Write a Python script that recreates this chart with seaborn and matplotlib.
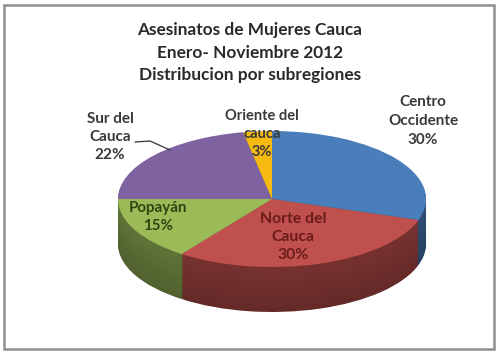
import matplotlib
matplotlib.use("Agg")
import matplotlib.pyplot as plt
import matplotlib.colors as mcolors
from matplotlib.patches import Rectangle
import seaborn as sns

# ---- data ----
categories = ["Centro\nOccidente", "Norte del\nCauca", "Popayán", "Sur del\nCauca", "Oriente del\ncauca"]
values = [30, 30, 15, 22, 3]
slice_colors = ["#4A7EBB", "#C0504D", "#9BBB59", "#7F63A1", "#F6BA12"]
label_colors = ["#3a3a3a", "#6a1c1a", "#2c4710", "#3a3a3a", "#3a3a3a"]
title_lines = ["Asesinatos de Mujeres Cauca", "Enero- Noviembre 2012", "Distribucion por subregiones"]

sns.set_theme(style="white")
plt.rcParams["font.family"] = ["Lato", "DejaVu Sans"]

W, H = 500, 354
fig = plt.figure(figsize=(W / 100, H / 100), dpi=100)
fig.patch.set_facecolor("white")

# pie geometry in pixels
cx, cy = 272, 199        # centre of top face
rx, ry = 154, 68         # ellipse radii
depth = 45               # thickness of the side

ax = fig.add_axes([0, 0, 1, 1])
ax.set_facecolor("none")


def darken(c, f):
    r, g, b = mcolors.to_rgb(c)
    return (r * f, g * f, b * f)


n_layers = 40
d_units = depth / ry
for i in range(n_layers, 0, -1):
    off = -d_units * i / n_layers
    shade = 0.52 + 0.1 * (1 - i / n_layers)
    ax.pie(values, colors=[darken(c, shade) for c in slice_colors], startangle=90,
           counterclock=False, radius=1, center=(0, off),
           wedgeprops=dict(linewidth=0, antialiased=True), frame=True)

ax.pie(values, colors=slice_colors, startangle=90, counterclock=False,
       radius=1, center=(0, 0), wedgeprops=dict(linewidth=0), frame=True)

ax.set_aspect("auto")
ax.set_xlim(-cx / rx, (W - cx) / rx)
ax.set_ylim(-(H - cy) / ry, cy / ry)
ax.axis("off")


def fx(px):
    return px / W


def fy(py):
    return 1 - py / H


# title
for line, y in zip(title_lines, [30, 53, 75]):
    fig.text(fx(250), fy(y), line, ha="center", va="center", fontsize=12.4,
             fontweight="bold", color="#2a2a2a")

# data labels (pixel centres)
label_pos = [(423, 121), (293, 237), (158, 217), (110, 137), (262, 134)]
label_sizes = [11, 11.3, 10.9, 11, 10.5]
label_spacing = [1.42, 1.32, 1.38, 1.40, 1.32]
for cat, v, (px, py), col, fs, ls in zip(categories, values, label_pos, label_colors,
                                         label_sizes, label_spacing):
    fig.text(fx(px), fy(py), f"{cat}\n{v}%", ha="center", va="center",
             fontsize=fs, fontweight="bold", color=col, linespacing=ls)

# leader line for Sur del Cauca
fig.add_artist(plt.Line2D([fx(135), fx(150), fx(170)], [fy(142), fy(141), fy(150)],
                          color="#333333", linewidth=0.9))

# outer frame
fig.add_artist(Rectangle((fx(4), fy(349)), fx(490), (344) / H, transform=fig.transFigure,
                         fill=False, edgecolor="#8e8e8e", linewidth=1.8))

fig.savefig("out.png", dpi=100)
